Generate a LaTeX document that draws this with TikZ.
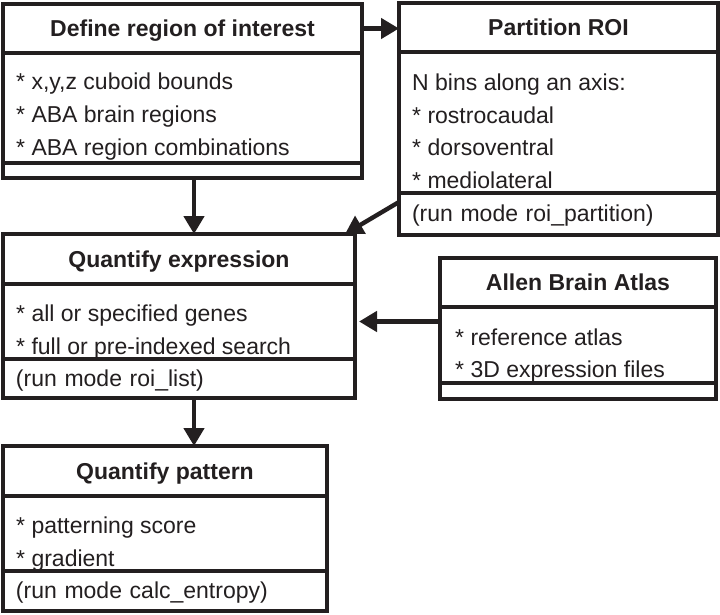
\documentclass[tikz,border=0pt]{standalone}
\usepackage{fontspec}
\setmainfont{Liberation Sans}
\usepackage{xcolor}
\usetikzlibrary{arrows.meta}
\definecolor{ink}{RGB}{35,31,32}
\tikzset{
    part/.style={
        draw=ink,
        line width=4.2pt,
        rectangle,
        outer sep=0pt,
        inner sep=0pt,
        text=ink,
        fill=white
    },
    head/.style={
        part,
        font=\fontsize{23}{28}\selectfont\bfseries,
        text height=16.5pt,
        text depth=0pt
    },
    foot/.style={
        part,
        font=\fontsize{23}{28}\selectfont,
        align=left,
        inner xsep=13pt,
        text height=16.5pt,
        text depth=1.5pt
    },
    item/.style={
        anchor=base west,
        inner sep=0pt,
        text=ink,
        font=\fontsize{23}{28}\selectfont
    },
    flow/.style={
        draw=ink,
        line width=4.4pt,
        -{Triangle[length=18pt, width=20pt]}
    }
}

\begin{document}
\begin{tikzpicture}[x=1pt, y=-1pt]
  \useasboundingbox (0,0) rectangle (720,615);

  % Define region of interest
  \node[head, minimum width=359pt, minimum height=49pt] (roihead) at (182.5,28.5) {Define region of interest};
  \node[part, minimum width=359pt, minimum height=110pt] (roibody) at (182.5,108) {};
  \node[part, minimum width=359pt, minimum height=15pt] (roifoot) at (182.5,170.5) {};
  \node[item] (roi1) at (16,90) {* x,y,z cuboid bounds};
  \node[item] (roi2) at (16,123) {* ABA brain regions};
  \node[item] (roi3) at (16,156) {* ABA region combinations};

  % Partition ROI
  \node[head, minimum width=319pt, minimum height=49pt] (parthead) at (558.5,27.5) {Partition ROI};
  \node[part, minimum width=319pt, minimum height=141pt] (partbody) at (558.5,122.5) {};
  \node[foot, text width=293pt, minimum height=42pt] (partfoot) at (558.5,214) {(run mode roi\_partition)};
  \node[item] (part1) at (412,91) {N bins along an axis:};
  \node[item] (part2) at (412,123.5) {* rostrocaudal};
  \node[item] (part3) at (412,156) {* dorsoventral};
  \node[item] (part4) at (412,188.5) {* mediolateral};

  % Quantify expression
  \node[head, minimum width=352pt, minimum height=50pt] (qexhead) at (179,259) {Quantify expression};
  \node[part, minimum width=352pt, minimum height=75pt] (qexbody) at (179,321.5) {};
  \node[foot, text width=326pt, minimum height=39pt] (qexfoot) at (179,378.5) {(run mode roi\_list)};
  \node[item] (qex1) at (16,321) {* all or specified genes};
  \node[item] (qex2) at (16,354) {* full or pre-indexed search};

  % Allen Brain Atlas
  \node[head, minimum width=276pt, minimum height=49pt] (atlashead) at (578,282.5) {Allen Brain Atlas};
  \node[part, minimum width=276pt, minimum height=76pt] (atlasbody) at (578,345) {};
  \node[part, minimum width=276pt, minimum height=16pt] (atlasfoot) at (578,391) {};
  \node[item] (atlas1) at (455,345) {* reference atlas};
  \node[item] (atlas2) at (455,377) {* 3D expression files};

  % Quantify pattern
  \node[head, minimum width=324pt, minimum height=50pt] (pathead) at (165,471) {Quantify pattern};
  \node[part, minimum width=324pt, minimum height=75pt] (patbody) at (165,533.5) {};
  \node[foot, text width=298pt, minimum height=40pt] (patfoot) at (165,591) {(run mode calc\_entropy)};
  \node[item] (pat1) at (16,533) {* patterning score};
  \node[item] (pat2) at (16,566) {* gradient};

  % Connectors
  \coordinate (spine) at (194,0);
  \draw[flow] (roihead.east) -- (roihead.east -| parthead.west);
  \draw[flow] (roifoot.south -| spine) -- (qexhead.north -| spine);
  \draw[flow] ([yshift=-9pt]partfoot.north west) -- ([xshift=-10pt]qexhead.north east);
  \draw[flow, shorten >=4pt] (atlasbody.west |- qexbody.east) -- (qexbody.east);
  \draw[flow] (qexfoot.south -| spine) -- (pathead.north -| spine);
\end{tikzpicture}
\end{document}
